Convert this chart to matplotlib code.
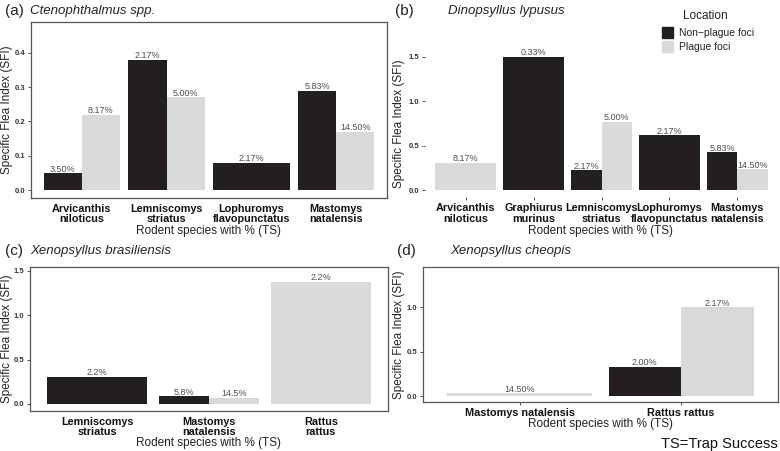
import matplotlib
matplotlib.use("Agg")
import matplotlib.pyplot as plt
from matplotlib.patches import Rectangle

# ---------------------------------------------------------------------------
# Data (SFI values and trap-success labels; None = not sampled)
# ---------------------------------------------------------------------------
a_species = ["Arvicanthis\nniloticus", "Lemniscomys\nstriatus",
             "Lophuromys\nflavopunctatus", "Mastomys\nnatalensis"]
a_nonplague = [0.05, 0.38, 0.08, 0.29]
a_plague = [0.22, 0.27, None, 0.17]
a_nonplague_ts = ["3.50%", "2.17%", "2.17%", "5.83%"]
a_plague_ts = ["8.17%", "5.00%", None, "14.50%"]

b_species = ["Arvicanthis\nniloticus", "Graphiurus\nmurinus", "Lemniscomys\nstriatus",
             "Lophuromys\nflavopunctatus", "Mastomys\nnatalensis"]
b_nonplague = [None, 1.50, 0.23, 0.62, 0.43]
b_plague = [0.31, None, 0.77, None, 0.24]
b_nonplague_ts = [None, "0.33%", "2.17%", "2.17%", "5.83%"]
b_plague_ts = ["8.17%", None, "5.00%", None, "14.50%"]

c_species = ["Lemniscomys\nstriatus", "Mastomys\nnatalensis", "Rattus\nrattus"]
c_nonplague = [0.31, 0.09, None]
c_plague = [None, 0.07, 1.38]
c_nonplague_ts = ["2.2%", "5.8%", None]
c_plague_ts = [None, "14.5%", "2.2%"]

d_species = ["Mastomys natalensis", "Rattus rattus"]
d_nonplague = [None, 0.33]
d_plague = [0.03, 1.00]
d_nonplague_ts = [None, "2.00%"]
d_plague_ts = ["14.50%", "2.17%"]

# ---------------------------------------------------------------------------
# Style
# ---------------------------------------------------------------------------
DARK = "#231f20"
LIGHT = "#d8d9da"
LABEL_GREY = "#4d4d4d"
W, H = 780, 451

plt.rcParams.update({
    "font.family": ["Liberation Sans", "DejaVu Sans"],
    "axes.linewidth": 0.9,
    "axes.edgecolor": "#555555",
})

fig = plt.figure(figsize=(W / 100, H / 100), dpi=100)


def px_axes(left, top, right, bottom):
    ax = fig.add_axes([left / W, 1 - bottom / H, (right - left) / W, (bottom - top) / H])
    ax._px = (left, top, right, bottom)
    return ax


def draw_panel(ax, species, nonplague, plague, non_ts, pl_ts, ylim, yticks,
               ylabel_x, border=True, xticks=False):
    x = list(range(1, len(species) + 1))
    for i, xi in enumerate(x):
        np_v, pl_v = nonplague[i], plague[i]
        if np_v is not None and pl_v is not None:
            pos = [(xi - 0.225, 0.45, np_v, DARK, non_ts[i]),
                   (xi + 0.225, 0.45, pl_v, LIGHT, pl_ts[i])]
        elif np_v is not None:
            pos = [(xi, 0.9, np_v, DARK, non_ts[i])]
        else:
            pos = [(xi, 0.9, pl_v, LIGHT, pl_ts[i])]
        for cx, w, v, col, lab in pos:
            ax.bar(cx, v, width=w, color=col, edgecolor="none", zorder=2)
            ax.annotate(lab, (cx, v), xytext=(0, -0.5), textcoords="offset points",
                        ha="center", va="bottom", fontsize=6.5, color=LABEL_GREY)
    ax.set_xlim(0.4, len(species) + 0.6)
    ax.set_ylim(*ylim)
    ax.set_yticks(yticks)
    ax.set_yticklabels([f"{t:.1f}" for t in yticks], fontsize=5.5,
                       fontweight="bold", color="#333333")
    ax.set_xticks(x)
    ax.set_xticklabels(species, fontsize=7.8, fontweight="bold", color="#111111",
                       linespacing=1.05)
    ax.tick_params(axis="y", length=2.5, width=0.6, color="#333333", pad=1.5)
    ax.tick_params(axis="x", length=2.5 if xticks else 0, width=0.6,
                   color="#333333", pad=2 if xticks else 4)
    for s in ax.spines.values():
        s.set_visible(border)
    ax.set_ylabel("Specific Flea Index (SFI)", fontsize=8.5, color="#222222")
    left, top, right, bottom = ax._px
    ax.yaxis.set_label_coords((ylabel_x - left) / (right - left), 0.5)


# (a)
ax_a = px_axes(31, 22, 387, 198)
draw_panel(ax_a, a_species, a_nonplague, a_plague, a_nonplague_ts, a_plague_ts,
           (-0.023, 0.49), [0.0, 0.1, 0.2, 0.3, 0.4], ylabel_x=13)
fig.text(5 / W, 1 - 11 / H, "(a)", fontsize=11, va="center", color="#222222")
fig.text(30 / W, 1 - 11 / H, "Ctenophthalmus spp.", fontsize=9.5,
         style="italic", va="center", color="#222222")
fig.text(209 / W, 1 - 231 / H, "Rodent species with % (TS)", fontsize=8.5,
         ha="center", va="center", color="#222222")

# (b)
ax_b = px_axes(425, 50, 778, 197)
draw_panel(ax_b, b_species, b_nonplague, b_plague, b_nonplague_ts, b_plague_ts,
           (-0.075, 1.575), [0.0, 0.5, 1.0, 1.5], ylabel_x=405,
           border=False, xticks=True)
fig.text(395 / W, 1 - 11 / H, "(b)", fontsize=11, va="center", color="#222222")
fig.text(448 / W, 1 - 11 / H, "Dinopsyllus lypusus", fontsize=9.5,
         style="italic", va="center", color="#222222")

# legend (inside top right of panel b)
fig.text(705 / W, 1 - 16 / H, "Location", fontsize=8.5, ha="center",
         va="center", color="#222222")
for k, (col, lab) in enumerate([(DARK, "Non\u2212plague foci"), (LIGHT, "Plague foci")]):
    ytop = 27 + k * 14
    fig.patches.append(Rectangle((662 / W, 1 - (ytop + 11) / H), 11 / W, 11 / H,
                                 transform=fig.transFigure, color=col))
    fig.text(679 / W, 1 - (ytop + 5.5) / H, lab, fontsize=7.5, va="center",
             color="#222222")

# (c)
ax_c = px_axes(30, 267, 388, 411)
draw_panel(ax_c, c_species, c_nonplague, c_plague, c_nonplague_ts, c_plague_ts,
           (-0.079, 1.545), [0.0, 0.5, 1.0, 1.5], ylabel_x=13)
fig.text(5 / W, 1 - 251 / H, "(c)", fontsize=11, va="center", color="#222222")
fig.text(30 / W, 1 - 251 / H, "Xenopsyllus brasiliensis", fontsize=9.5,
         style="italic", va="center", color="#222222")
fig.text(209 / W, 1 - 443 / H, "Rodent species with % (TS)", fontsize=8.5,
         ha="center", va="center", color="#222222")
fig.text(600 / W, 1 - 231 / H, "Rodent species with % (TS)", fontsize=8.5,
         ha="center", va="center", color="#222222")

# (d)
ax_d = px_axes(423, 267, 778, 402)
draw_panel(ax_d, d_species, d_nonplague, d_plague, d_nonplague_ts, d_plague_ts,
           (-0.067, 1.45), [0.0, 0.5, 1.0], ylabel_x=405, xticks=True)
fig.text(600 / W, 1 - 424 / H, "Rodent species with % (TS)", fontsize=8.5,
         ha="center", va="center", color="#222222")
fig.text(397 / W, 1 - 251 / H, "(d)", fontsize=11, va="center", color="#222222")
fig.text(450 / W, 1 - 251 / H, "Xenopsyllus cheopis", fontsize=9.5,
         style="italic", va="center", color="#222222")

fig.text(778 / W, 1 - 444 / H, "TS=Trap Success", fontsize=10.5, ha="right",
         va="center", color="#111111")

fig.savefig("out.png", dpi=100)
